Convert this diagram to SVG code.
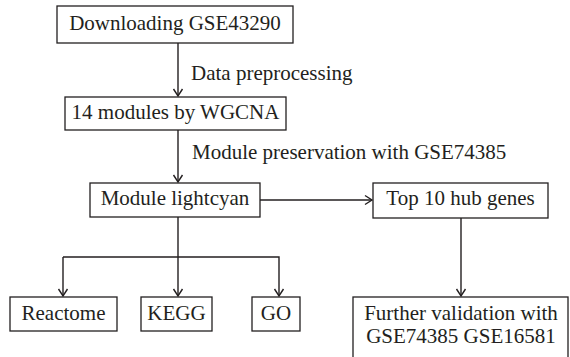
<svg xmlns="http://www.w3.org/2000/svg" width="570" height="357" viewBox="0 0 570 357">
<style>
.box{fill:#fff;stroke:#231f20;stroke-width:1.3}
.t{font-size:21px;fill:#231f20;text-anchor:middle}
.l{font-size:21px;fill:#231f20}
.c{fill:none;stroke:#231f20;stroke-width:1.4}
</style>
<defs>
<marker id="ah" viewBox="0 0 12 12" refX="10" refY="6" markerWidth="12" markerHeight="12" markerUnits="userSpaceOnUse" orient="auto">
<path d="M3,1.5 L10,6 L3,10.5" fill="none" stroke="#231f20" stroke-width="1.4"/>
</marker>
</defs>
<rect width="570" height="357" fill="#fff"/>
<g id="connectors" font-family="'Liberation Serif', 'Times New Roman', serif">
<line class="c" x1="178" y1="43" x2="178" y2="96" marker-end="url(#ah)"/>
<line class="c" x1="178" y1="130" x2="178" y2="182" marker-end="url(#ah)"/>
<line class="c" x1="260" y1="200" x2="372" y2="200" marker-end="url(#ah)"/>
<line class="c" x1="178" y1="217" x2="178" y2="296" marker-end="url(#ah)"/>
<polyline class="c" points="63,257 279,257 279,296" marker-end="url(#ah)"/>
<line class="c" x1="63" y1="257" x2="63" y2="296" marker-end="url(#ah)"/>
<line class="c" x1="461" y1="218" x2="461" y2="296" marker-end="url(#ah)"/>
<text class="l" x="191" y="80">Data preprocessing</text>
<text class="l" x="192" y="159">Module preservation with GSE74385</text>
</g>
<g font-family="'Liberation Serif', 'Times New Roman', serif">
<g id="n1"><rect class="box" x="57" y="6" width="236" height="37"/><text class="t" x="175" y="29.5">Downloading GSE43290</text></g>
<g id="n2"><rect class="box" x="65" y="97" width="221" height="33"/><text class="t" x="175.5" y="119">14 modules by WGCNA</text></g>
<g id="n3"><rect class="box" x="90" y="183" width="170" height="34"/><text class="t" x="175" y="204.5">Module lightcyan</text></g>
<g id="n4"><rect class="box" x="373" y="183" width="175" height="35"/><text class="t" x="460.5" y="205">Top 10 hub genes</text></g>
<g id="n5"><rect class="box" x="10" y="297" width="107" height="34"/><text class="t" x="63.5" y="320">Reactome</text></g>
<g id="n6"><rect class="box" x="141" y="297" width="71" height="34"/><text class="t" x="176.5" y="320">KEGG</text></g>
<g id="n7"><rect class="box" x="252" y="297" width="48" height="34"/><text class="t" x="276" y="320">GO</text></g>
<g id="n8"><rect class="box" x="353" y="297" width="215" height="80"/><text class="t" x="461" y="320">Further validation with</text><text class="t" x="461" y="343">GSE74385 GSE16581</text></g>
</g>
</svg>
